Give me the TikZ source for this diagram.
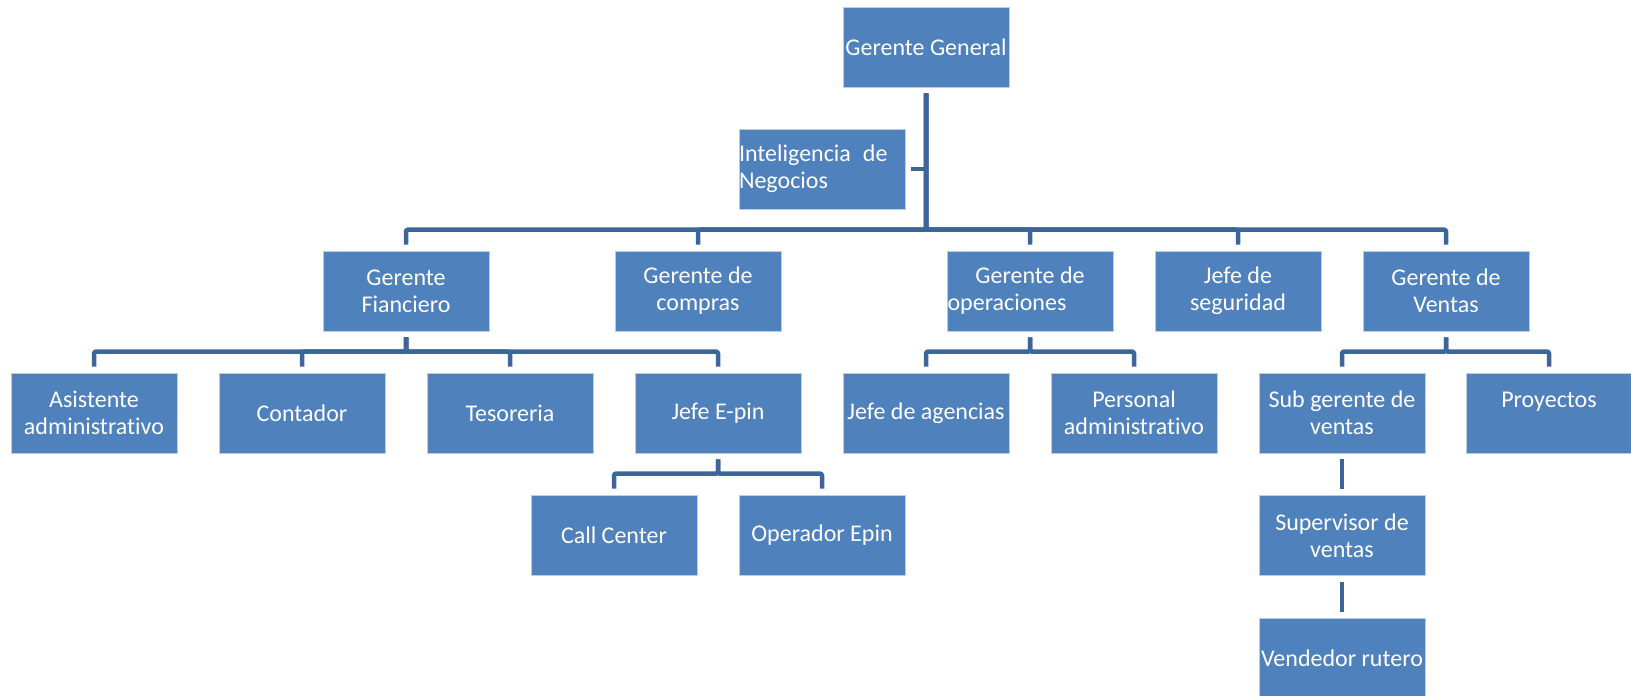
\documentclass[tikz,border=0pt]{standalone}
\usepackage{fontspec}
\setmainfont{Carlito}[Ligatures=NoCommon]
\usepackage{tikz}
\usetikzlibrary{positioning, calc}
\definecolor{boxblue}{RGB}{79, 129, 189}
\definecolor{boxedge}{RGB}{185, 205, 229}
\definecolor{lineblue}{RGB}{60, 102, 154}

\begin{document}
\begin{tikzpicture}[
    x=1pt, y=-1pt,
    post/.style={rectangle, fill=boxblue, draw=boxedge, line width=0.6pt,
                 minimum width=166pt, minimum height=80pt, inner sep=0pt,
                 text=white, align=center, font=\fontsize{24}{27}\selectfont},
    link/.style={draw=lineblue, line width=4.5pt, rounded corners=2pt},
]
\useasboundingbox (0,0) rectangle (1631,696);

% Top
\node[post] (gg) at (926,47) {Gerente General};
\node[post, text width=166pt, align=left] (intel) at (822,169) {Inteligencia\hspace{0.5em}de\\Negocios};

% Managers
\node[post] (fin) at (406,291) {Gerente\\Fianciero};
\node[post] (com) at (698,291) {Gerente de\\compras};
\node[post] (ope) at (1030,291) {Gerente de\\operaciones\hspace*{46pt}};
\node[post] (seg) at (1238,291) {Jefe de\\seguridad};
\node[post] (ven) at (1446,291) {Gerente de\\Ventas};

% Staff
\node[post] (asis) at (94,413) {Asistente\\administrativo};
\node[post] (cont) at (302,413) {Contador};
\node[post] (tes) at (510,413) {Tesoreria};
\node[post] (epin) at (718,413) {Jefe E-pin};
\node[post] (agen) at (926,413) {Jefe de agencias};
\node[post] (pers) at (1134,413) {Personal\\administrativo};
\node[post] (sub) at (1342,413) {Sub gerente de\\ventas};
\node[post] (proy) at (1549,413) {Proyectos\\\mbox{}};

% E-pin and sales line
\node[post] (call) at (614,535) {Call Center};
\node[post] (oper) at (822,535) {Operador Epin};
\node[post, below=42pt of sub] (sup) {Supervisor de\\ventas};
\node[post, below=42pt of sup] (vend) {Vendedor rutero};

% Links
\foreach \c in {fin,com,ope,seg,ven}
    \draw[link] ([yshift=-6pt]gg.south) |- ([yshift=21pt]\c.north) -- ([yshift=6pt]\c.north);
\draw[link] (intel.east -| gg.south) -- ([xshift=6pt]intel.east);
\foreach \c in {asis,cont,tes,epin}
    \draw[link] ([yshift=-6pt]fin.south) |- ([yshift=21pt]\c.north) -- ([yshift=6pt]\c.north);
\foreach \c in {agen,pers}
    \draw[link] ([yshift=-6pt]ope.south) |- ([yshift=21pt]\c.north) -- ([yshift=6pt]\c.north);
\foreach \c in {sub,proy}
    \draw[link] ([yshift=-6pt]ven.south) |- ([yshift=21pt]\c.north) -- ([yshift=6pt]\c.north);
\foreach \c in {call,oper}
    \draw[link] ([yshift=-6pt]epin.south) |- ([yshift=21pt]\c.north) -- ([yshift=6pt]\c.north);
\draw[link] ([yshift=-6pt]sub.south) -- ([yshift=6pt]sup.north);
\draw[link] ([yshift=-6pt]sup.south) -- ([yshift=6pt]vend.north);

\end{tikzpicture}
\end{document}
